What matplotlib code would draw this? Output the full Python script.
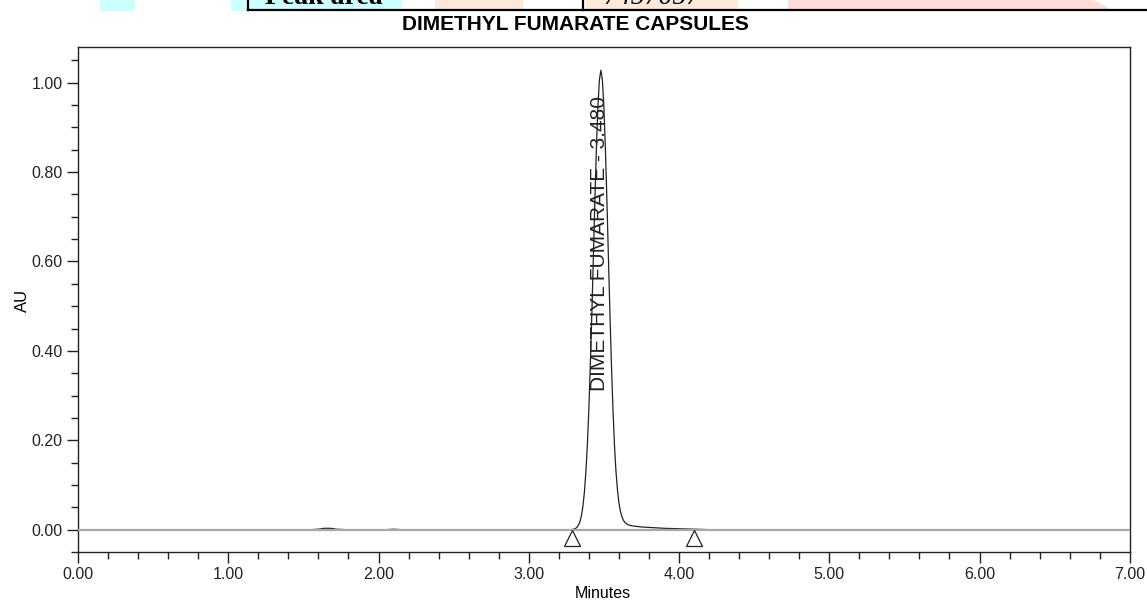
import matplotlib
matplotlib.use('Agg')
import matplotlib.pyplot as plt
from matplotlib.patches import Rectangle, Polygon
from matplotlib.lines import Line2D
from matplotlib.ticker import MultipleLocator, FormatStrFormatter

plt.rcParams['font.family'] = ['Liberation Sans', 'DejaVu Sans']

# chromatogram trace (minutes, AU)
times = [0.00, 1.55, 1.60, 1.64, 1.68, 1.72, 1.78, 2.05, 2.10, 2.15, 3.20, 3.28,
         3.30, 3.31, 3.32, 3.33, 3.34, 3.35, 3.36, 3.37, 3.38, 3.39, 3.40, 3.41,
         3.42, 3.43, 3.44, 3.45, 3.46, 3.47, 3.48, 3.49, 3.50, 3.51, 3.52, 3.53,
         3.54, 3.55, 3.56, 3.57, 3.58, 3.59, 3.60, 3.61, 3.62, 3.63, 3.64, 3.66,
         3.68, 3.70, 3.75, 3.80, 3.90, 4.00, 4.10, 4.20, 7.00]
au = [0.000, 0.000, 0.001, 0.003, 0.003, 0.001, 0.000, 0.000, 0.001, 0.000, 0.000, 0.000,
      0.001, 0.0025, 0.005, 0.0095, 0.017, 0.030, 0.051, 0.083, 0.128, 0.190, 0.271, 0.371,
      0.486, 0.611, 0.737, 0.852, 0.946, 1.006, 1.028, 1.006, 0.946, 0.852, 0.737, 0.611,
      0.486, 0.371, 0.272, 0.192, 0.132, 0.090, 0.060, 0.041, 0.029, 0.021, 0.016, 0.011,
      0.009, 0.008, 0.006, 0.005, 0.003, 0.002, 0.001, 0.000, 0.000]

peak_name = 'DIMETHYL FUMARATE'
peak_rt = 3.480
peak_start_end = [3.285, 4.10]

title = 'DIMETHYL FUMARATE CAPSULES'
x_ticks = [0, 1, 2, 3, 4, 5, 6, 7]
y_ticks = [0.0, 0.2, 0.4, 0.6, 0.8, 1.0]

W, H = 1147, 603
fig = plt.figure(figsize=(11.47, 6.03), dpi=100)
ax = fig.add_axes([0.068, 0.0846, 0.917, 0.8375])

# trace, then the grey baseline on top of it
ax.plot(times, au, color='#222222', lw=0.9, zorder=2)
ax.axhline(0, color='#a8a8a8', lw=1.6, zorder=3)

# peak start / end markers
ax.plot(peak_start_end, [-0.018] * len(peak_start_end), linestyle='none', marker='^',
        markersize=12, markerfacecolor='white', markeredgecolor='#222222',
        markeredgewidth=0.9, zorder=4)

ax.text(3.472, 0.31, f'{peak_name} - {peak_rt:.3f}', rotation=90, ha='center',
        va='bottom', fontsize=15, color='#222222')

ax.set_xlim(0, 7)
ax.set_ylim(-0.05, 1.08)
ax.set_xticks(x_ticks)
ax.set_yticks(y_ticks)
ax.xaxis.set_minor_locator(MultipleLocator(0.2))
ax.yaxis.set_minor_locator(MultipleLocator(0.05))
ax.xaxis.set_major_formatter(FormatStrFormatter('%.2f'))
ax.yaxis.set_major_formatter(FormatStrFormatter('%.2f'))
ax.tick_params(which='major', direction='out', length=8, width=1, labelsize=11.5,
               colors='#222222', pad=3)
ax.tick_params(which='minor', direction='out', length=5, width=1, colors='#222222')
for s in ax.spines.values():
    s.set_color('#222222')
    s.set_linewidth(1)

fig.text(603 / W, 1 - 594 / H, 'Minutes', fontsize=11.5, ha='center', va='center')
fig.text(22 / W, 1 - 300 / H, 'AU', fontsize=12, rotation=90, ha='center', va='center')

fig.text(575 / W, 1 - 25 / H, title, ha='center', va='center',
         fontsize=15, fontweight='bold')

# fragment of a table cut off at the top of the page
def px_rect(x0, x1, y0, y1, color):
    fig.patches.append(Rectangle((x0 / W, 1 - y1 / H), (x1 - x0) / W, (y1 - y0) / H,
                                 transform=fig.transFigure, color=color, lw=0, zorder=0))

px_rect(100, 135, 0, 11, '#ccffff')
px_rect(231, 247, 0, 11, '#ccffff')
px_rect(248, 402, 0, 10, '#ccffff')
px_rect(435, 523, 0, 10, '#fde9d9')
px_rect(586, 738, 0, 10, '#fde9d9')
fig.patches.append(Polygon([(788 / W, 1), (1094 / W, 1), (1112 / W, 1 - 10 / H), (788 / W, 1 - 10 / H)],
                           closed=True, transform=fig.transFigure, color='#ffdcd8', lw=0, zorder=0))
fig.lines.append(Line2D([248 / W, 1], [1 - 10 / H, 1 - 10 / H], transform=fig.transFigure,
                        color='black', lw=1.6))
for xv in [248, 583]:
    fig.lines.append(Line2D([xv / W, xv / W], [1, 1 - 10 / H], transform=fig.transFigure,
                            color='black', lw=1.6))
fig.text(265 / W, 1 - 4 / H, 'Peak area', fontsize=20, fontweight='bold',
         family=['Liberation Serif', 'DejaVu Serif'], va='baseline', ha='left')
fig.text(603 / W, 1 - 4 / H, '7457057', fontsize=20, style='italic',
         family=['Liberation Serif', 'DejaVu Serif'], va='baseline', ha='left')

fig.savefig('out.png', dpi=100)
